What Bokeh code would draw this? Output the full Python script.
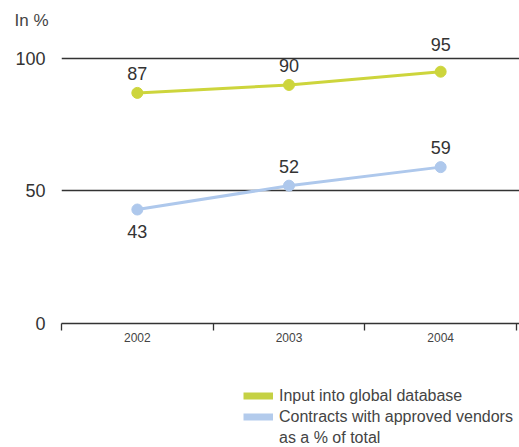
from bokeh.plotting import figure
from bokeh.layouts import column
from bokeh.models import (Range1d, FixedTicker, Legend, LegendItem,
                          ColumnDataSource, LinearAxis)
from bokeh.core.properties import value
from bokeh.embed import file_html
from bokeh.resources import INLINE

# ---- data ----
years = ["2002", "2003", "2004"]
input_global_db = [87, 90, 95]
approved_vendors = [43, 52, 59]
y_ticks = [0, 50, 100]
series_names = ["Input into global database", "Contracts with approved vendors", "as a % of total"]
unit_label = "In %"

# ---- styles ----
FONT = "Liberation Sans"
GREEN = "#cdd53c"
GREEN_LEG = "#c5d144"
BLUE = "#aec8ec"
BLUE_LEG = "#b3cbec"
DARK = "#333333"
green_label_dy = [-19, -19, -27]
blue_label_dy = [22, -19, -20]

W = 519
H1, H2 = 355, 92

p = figure(width=W, height=H1, output_backend="svg", toolbar_location=None,
           x_range=Range1d(0, len(years) * 458 / 455), y_range=Range1d(0, 107.9),
           x_axis_location=None, y_axis_location=None,
           min_border_left=61, min_border_right=0, min_border_top=36, min_border_bottom=32)
p.outline_line_color = None

p.title.text = unit_label
p.title.align = "left"
p.title.offset = -47
p.title.vertical_align = "bottom"
p.title.standoff = 16
p.title.text_font = FONT
p.title.text_font_size = "17px"
p.title.text_font_style = "normal"
p.title.text_color = "#444444"

xs = [i + 0.5 for i in range(len(years))]

# left axis
yax = LinearAxis(ticker=FixedTicker(ticks=y_ticks))
yax.axis_line_color = None
yax.major_tick_line_color = None
yax.minor_tick_line_color = None
yax.major_label_text_font = FONT
yax.major_label_text_font_size = "18px"
yax.major_label_text_color = DARK
yax.major_label_standoff = 10
p.add_layout(yax, "left")

# bottom axis
xax = LinearAxis(ticker=FixedTicker(ticks=xs, minor_ticks=list(range(len(years) + 1))))
xax.major_label_overrides = {x: y for x, y in zip(xs, years)}
xax.axis_line_color = DARK
xax.axis_line_width = 1.3
xax.major_tick_line_color = None
xax.major_tick_out = 0
xax.major_tick_in = 0
xax.minor_tick_line_color = DARK
xax.minor_tick_line_width = 1.3
xax.minor_tick_in = 0
xax.minor_tick_out = 7
xax.major_label_text_font = FONT
xax.major_label_text_font_size = "12px"
xax.major_label_text_color = "#444444"
xax.major_label_standoff = 2
p.add_layout(xax, "below")

p.xgrid.visible = False
p.ygrid.ticker = FixedTicker(ticks=[50, 100])
p.ygrid.grid_line_color = DARK
p.ygrid.grid_line_width = 1.3

# series
src_g = ColumnDataSource(dict(x=xs, y=input_global_db, t=[str(v) for v in input_global_db], dy=green_label_dy))
src_b = ColumnDataSource(dict(x=xs, y=approved_vendors, t=[str(v) for v in approved_vendors], dy=blue_label_dy))

p.line("x", "y", source=src_g, line_color=GREEN, line_width=3)
p.scatter("x", "y", source=src_g, size=11, fill_color=GREEN, line_color=GREEN)
p.line("x", "y", source=src_b, line_color=BLUE, line_width=3)
p.scatter("x", "y", source=src_b, size=11, fill_color=BLUE, line_color=BLUE)

for src in (src_g, src_b):
    p.text("x", "y", text="t", source=src, y_offset="dy",
           text_font=value(FONT), text_font_size="18px", text_color=DARK,
           text_align="center", text_baseline="middle")

# legend figure
q = figure(width=W, height=H2, output_backend="svg", toolbar_location=None,
           x_range=Range1d(0, 1), y_range=Range1d(0, 1),
           x_axis_location=None, y_axis_location=None,
           min_border_left=0, min_border_right=0, min_border_top=0, min_border_bottom=0)
q.outline_line_color = None
q.xgrid.visible = False
q.ygrid.visible = False

nan = float("nan")
r_leg_g = q.line(x=[nan], y=[nan], line_color=GREEN_LEG, line_width=7)
r_leg_b = q.line(x=[nan], y=[nan], line_color=BLUE_LEG, line_width=7)
r_leg_n = q.line(x=[nan], y=[nan], line_color=BLUE_LEG, line_width=7, line_alpha=0)

legend = Legend(items=[LegendItem(label=series_names[0], renderers=[r_leg_g]),
                       LegendItem(label=series_names[1], renderers=[r_leg_b]),
                       LegendItem(label=series_names[2], renderers=[r_leg_n])],
                location=(182, -1))
legend.padding = 0
legend.margin = 0
legend.spacing = 0
legend.border_line_color = None
legend.background_fill_alpha = 0
legend.glyph_width = 30
legend.glyph_height = 21
legend.label_height = 21
legend.label_standoff = 6
legend.label_text_font = FONT
legend.label_text_font_size = "16px"
legend.label_text_color = "#444444"
q.add_layout(legend, "center")

layout = column(p, q, spacing=0)
open("out.html", "w").write(file_html(layout, INLINE))
